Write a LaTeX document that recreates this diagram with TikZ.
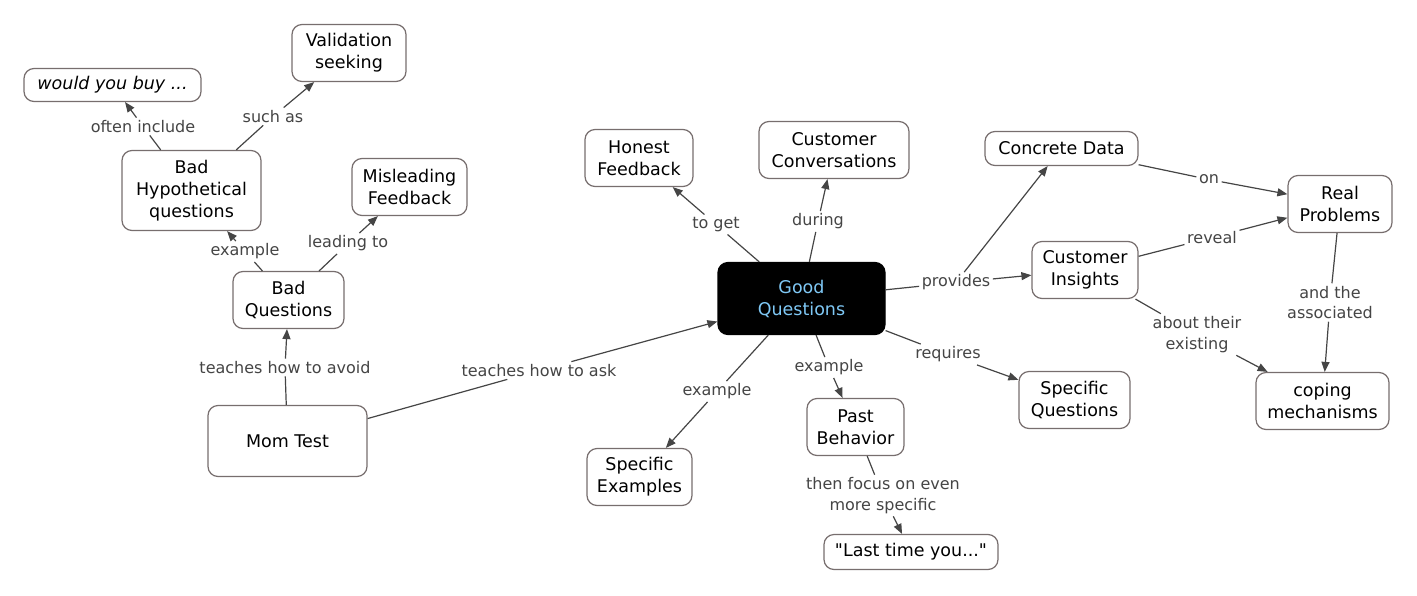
\documentclass[tikz,border=0pt]{standalone}
\usepackage{fontspec}
\setmainfont{DejaVu Sans}
\newfontfamily\plainfont{DejaVu Sans}
\usetikzlibrary{arrows.meta}
\definecolor{bord}{HTML}{776E6E}
\definecolor{edgec}{HTML}{454545}
\definecolor{gqtext}{HTML}{7FC8F5}
\newcommand\cmnodefont{\fontsize{17.5}{22}\selectfont}
\newcommand\cmlabfont{\fontsize{16}{20.7}\selectfont}
\tikzset{
  concept/.style={draw=bord, line width=1.2pt, rounded corners=10pt, fill=white,
    align=center, inner sep=0pt, font=\cmnodefont},
  lab/.style={fill=white, text=edgec, align=center, inner sep=2.5pt, font=\cmlabfont},
  con/.style={draw=edgec, line width=1.2pt},
  arr/.style={con, -{Triangle[length=10pt,width=8pt]}}
}
\begin{document}
\begin{tikzpicture}[x=1pt,y=-1pt]
\useasboundingbox (0,0) rectangle (1417,595);
% concepts
\node[concept, minimum width=177pt, minimum height=33pt] (buy) at (112.5,85) {\itshape would you buy ...};
\node[concept, minimum width=114pt, minimum height=57pt] (valid) at (349,53) {Validation\\seeking};
\node[concept, minimum width=139pt, minimum height=80pt] (badhyp) at (191.5,190.5) {Bad\\Hypothetical\\questions};
\node[concept, minimum width=115pt, minimum height=57pt] (mislead) at (409.5,187) {Misleading\\Feedback};
\node[concept, minimum width=111pt, minimum height=57pt] (badq) at (288.5,300) {Bad\\Questions};
\node[concept, minimum width=159pt, minimum height=71pt] (mom) at (287.5,441) {Mom Test};
\node[concept, minimum width=108pt, minimum height=57pt] (honest) at (639,158) {Honest\\Feedback};
\node[concept, minimum width=150pt, minimum height=57pt] (custconv) at (834,150) {Customer\\Conversations};
\node[concept, minimum width=167pt, minimum height=72pt, fill=black, draw=black, text=gqtext] (gq) at (801.5,298.5) {Good\\Questions};
\node[concept, minimum width=153pt, minimum height=34pt] (concrete) at (1061.5,148.5) {Concrete Data};
\node[concept, minimum width=104pt, minimum height=57pt] (real) at (1340,204) {Real\\Problems};
\node[concept, minimum width=106pt, minimum height=57pt] (insights) at (1085,270) {Customer\\Insights};
\node[concept, minimum width=111pt, minimum height=57pt] (specq) at (1074.5,400) {Specific\\Questions};
\node[concept, minimum width=133pt, minimum height=57pt] (coping) at (1322.5,401) {coping\\mechanisms};
\node[concept, minimum width=105pt, minimum height=57pt] (specex) at (639.5,477) {Specific\\Examples};
\node[concept, minimum width=97pt, minimum height=57pt] (past) at (855.5,427) {Past\\Behavior};
\node[concept, minimum width=174pt, minimum height=35pt] (last) at (911,552) {\plainfont "Last time you..."};
% labels
\node[lab] (loften) at (143,126.5) {often include};
\node[lab] (lsuch) at (273,116.5) {such as};
\node[lab] (lex1) at (245,251.5) {example};
\node[lab] (llead) at (348,243.5) {leading to};
\node[lab] (lavoid) at (285,367.5) {teaches how to avoid};
\node[lab] (lask) at (539,370.5) {teaches how to ask};
\node[lab] (lget) at (716,224.5) {to get};
\node[lab] (lduring) at (818,221.5) {during};
\node[lab] (lprov) at (956,282.5) {provides};
\node[lab] (lon) at (1209,179.5) {on};
\node[lab] (lreveal) at (1212,237.5) {reveal};
\node[lab] (lassoc) at (1330,302.5) {and the\\associated};
\node[lab] (lexist) at (1197,334.5) {about their\\existing};
\node[lab] (lreq) at (948,354.5) {requires};
\node[lab] (lex2) at (717,391.5) {example};
\node[lab] (lex3) at (829,367.5) {example};
\node[lab] (lfocus) at (883,495.5) {then focus on even\\more specific};
% connectors
\draw[con] (badhyp) -- (loften); \draw[arr] (loften) -- (buy);
\draw[con] (badhyp) -- (lsuch); \draw[arr] (lsuch) -- (valid);
\draw[con] (badq) -- (lex1); \draw[arr] (lex1) -- (badhyp);
\draw[con] (badq) -- (llead); \draw[arr] (llead) -- (mislead);
\draw[con] (mom) -- (lavoid); \draw[arr] (lavoid) -- (badq);
\draw[con] (mom) -- (lask); \draw[arr] (lask) -- (gq);
\draw[con] (gq) -- (lget); \draw[arr] (lget) -- (honest);
\draw[con] (gq) -- (lduring); \draw[arr] (lduring) -- (custconv);
\draw[con] (gq) -- (lprov); \draw[arr] (lprov) -- (insights); \draw[arr] (lprov) -- (concrete);
\draw[con] (concrete) -- (lon); \draw[arr] (lon) -- (real);
\draw[con] (insights) -- (lreveal); \draw[arr] (lreveal) -- (real);
\draw[con] (insights) -- (lexist); \draw[arr] (lexist) -- (coping);
\draw[con] (real) -- (lassoc); \draw[arr] (lassoc) -- (coping);
\draw[con] (gq) -- (lreq); \draw[arr] (lreq) -- (specq);
\draw[con] (gq) -- (lex2); \draw[arr] (lex2) -- (specex);
\draw[con] (gq) -- (lex3); \draw[arr] (lex3) -- (past);
\draw[con] (past) -- (lfocus); \draw[arr] (lfocus) -- (last);
\end{tikzpicture}
\end{document}
